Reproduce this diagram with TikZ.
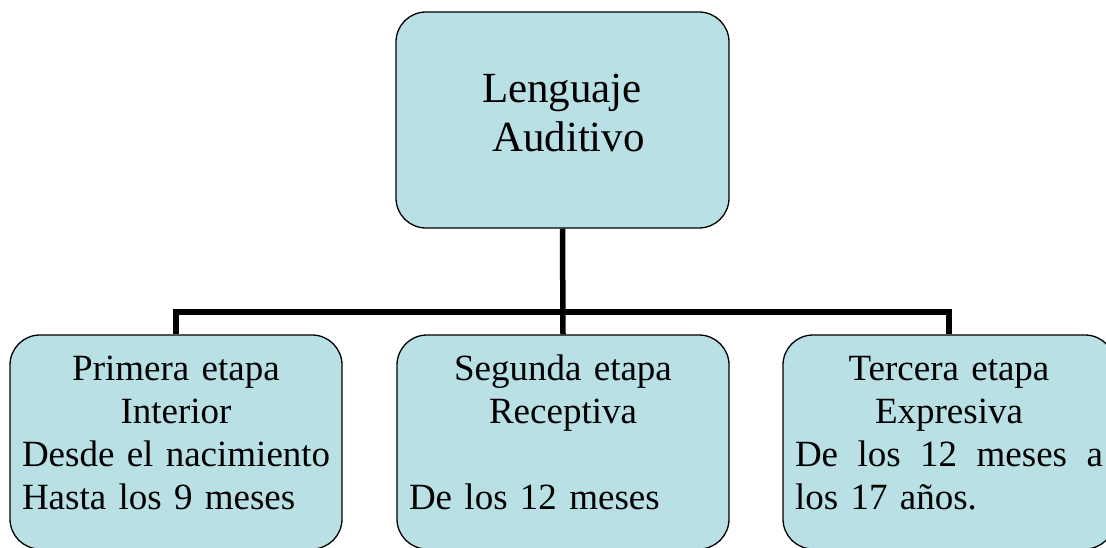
\documentclass[tikz,border=0pt]{standalone}
\usepackage{fontspec}
\setmainfont[WordSpace=0.85]{Liberation Serif}
\setlength{\parindent}{0pt}
\setlength{\parskip}{0pt}
\definecolor{boxfill}{RGB}{185,224,228}
\begin{document}
\begin{tikzpicture}[x=1pt,y=-1pt,
  stagebox/.style={draw=black, line width=1.3pt, fill=boxfill, rounded corners=30pt,
    minimum width=332pt, minimum height=214pt, inner sep=0pt},
  topbox/.style={stagebox, minimum width=333pt, minimum height=216pt},
  link/.style={line width=5.5pt, line join=miter},
  lowtext/.style={text width=308pt, inner sep=0pt, anchor=north,
    font=\fontsize{37pt}{43pt}\selectfont},
  toptext/.style={inner sep=0pt, anchor=north, align=center,
    font=\fontsize{43pt}{49pt}\selectfont}]
\useasboundingbox (0,0) rectangle (1106,548);
\clip (0,0) rectangle (1106,548);
\node[topbox] (root) at (562.5,120) {};
\node[stagebox] (s1) at (176,442) {};
\node[stagebox] (s2) at (563,442) {};
\node[stagebox] (s3) at (949,442) {};
\coordinate (bus) at (563,312);
\draw[link] (root.south) -- (s2.north);
\draw[link] (s1.north) |- (bus) -| (s3.north);
\node[toptext] (tt) at (562,67) {\rule{0pt}{35pt}Lenguaje\\\hspace*{0.3em}Auditivo};
\node[lowtext] (t1) at (176,350) {\centering\rule{0pt}{30pt}Primera etapa\\Interior\par
  \raggedright\mbox{Desde el nacimiento}\\\mbox{Hasta los 9 meses}\par};
\node[lowtext] (t2) at (563,350) {\centering\rule{0pt}{30pt}Segunda etapa\\Receptiva\par
  \raggedright\mbox{}\\\mbox{De los 12 meses}\par};
\node[lowtext] (t3) at (949,350) {\centering\rule{0pt}{30pt}Tercera etapa\\Expresiva\par
  \raggedright\leavevmode\makebox[308pt][s]{De\hfill los\hfill 12\hfill meses\hfill a}\\\mbox{los 17 años.}\par};
\end{tikzpicture}
\end{document}
